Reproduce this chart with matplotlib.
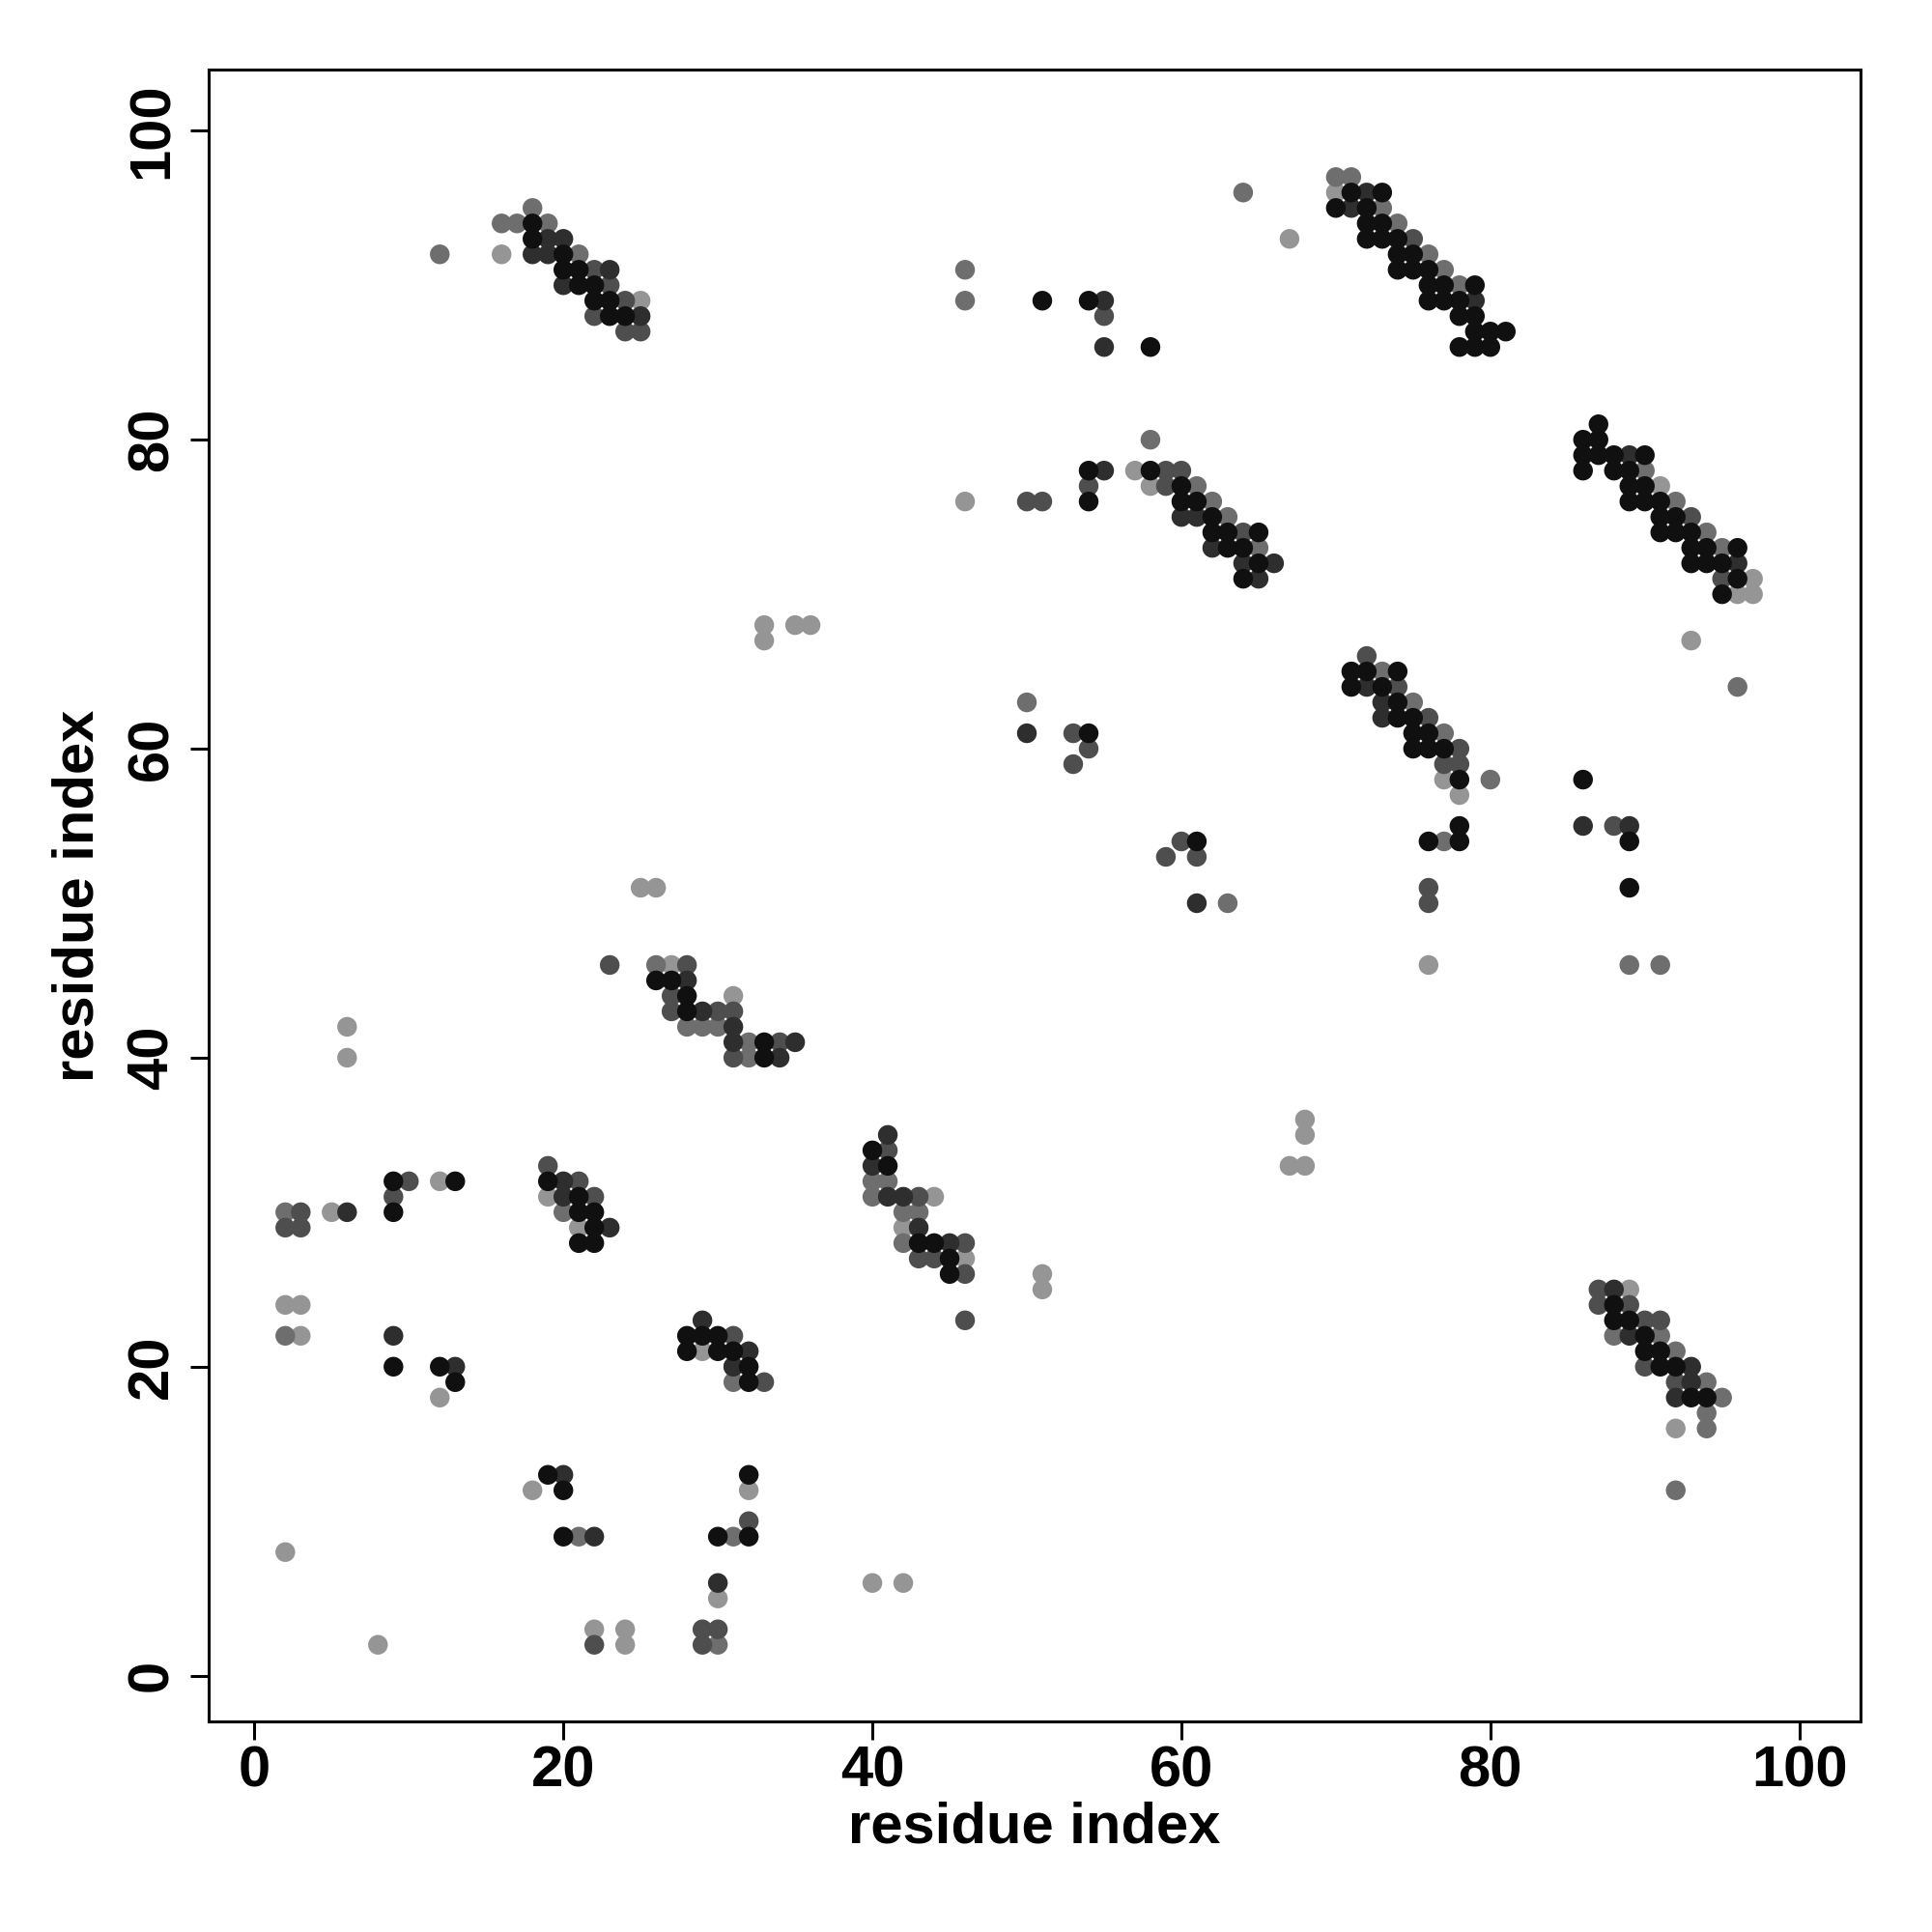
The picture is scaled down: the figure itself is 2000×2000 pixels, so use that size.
import matplotlib
matplotlib.use("Agg")
import matplotlib.pyplot as plt

plt.rcParams['font.family'] = ['Liberation Sans', 'DejaVu Sans']

# contact points grouped by shade (darkest first), as (i, j) residue pairs
level1 = [(18,94),(18,93),(20,92),(20,91),(21,91),(21,90),(22,90),(22,89),(23,89),(23,88),(24,88),
          (51,89),(54,89),(58,86),
          (71,96),(73,96),(70,95),(72,95),(72,94),(73,94),(72,93),(73,93),(74,93),(74,92),(75,92),
          (74,91),(75,91),(76,91),(76,90),(77,90),(79,90),(76,89),(77,89),(78,89),(78,88),(79,88),
          (79,87),(80,87),(81,87),(78,86),(79,86),(80,86),
          (54,78),(54,76),(58,78),(60,77),(60,76),(61,76),(62,75),(62,74),(63,74),(63,73),(64,73),
          (64,71),(65,74),(65,72),
          (87,81),(86,80),(87,80),(86,79),(87,79),(88,79),(90,79),(86,78),(88,78),(89,78),(89,77),
          (90,77),(89,76),(90,76),(91,76),(91,75),(92,75),(91,74),(92,74),(93,74),(93,73),(94,73),
          (96,73),(93,72),(94,72),(95,72),(96,71),(95,70),
          (54,61),(61,54),
          (71,65),(72,65),(74,65),(71,64),(73,64),(74,63),(74,62),(75,62),(75,61),(76,61),(75,60),
          (76,60),(77,60),(78,58),(86,58),(78,55),(76,54),(78,54),(89,54),(89,51),
          (26,45),(27,45),(28,44),(28,43),(33,41),(33,40),
          (9,32),(13,32),(9,30),(19,32),(21,31),(21,30),(22,30),(22,29),(21,28),(22,28),(9,20),
          (12,20),(13,19),
          (40,34),(41,33),(43,28),(44,28),(45,27),(45,26),(28,22),(29,22),(30,22),(28,21),(30,21),
          (31,21),(32,20),(32,19),
          (19,13),(20,12),(20,9),(32,13),(30,9),(32,9),
          (88,24),(88,23),(89,23),(90,22),(90,21),(91,21),(91,20),(92,20),(93,18),(94,18)]

level2 = [(18,92),(19,93),(19,92),(20,93),(20,90),(23,91),(25,88),
          (55,89),(55,86),
          (72,96),(71,95),(79,89),
          (55,78),(60,75),(61,75),(62,73),(64,72),(65,71),(66,72),
          (89,79),(96,72),
          (50,61),(61,50),
          (72,64),(73,63),(73,62),(86,55),(89,55),
          (28,45),(29,43),(31,42),(31,41),(35,41),(34,40),
          (6,30),(20,32),(20,31),(23,29),(9,22),(13,20),
          (41,35),(40,33),(41,31),(42,31),(43,29),(45,28),(29,23),(32,21),(31,20),
          (20,13),(22,9),(30,6),
          (88,25),(89,22),(93,20),(93,19),(92,18)]

level3 = [(22,91),(22,88),(23,90),(24,89),(24,87),(25,87),
          (55,88),
          (75,93),
          (50,76),(51,76),(54,77),(59,78),(59,77),(60,78),(64,74),
          (93,75),(95,71),
          (53,61),(54,60),(53,59),(60,54),(59,53),(61,53),
          (72,66),(74,64),(76,62),(78,60),(77,59),(78,59),(88,55),(76,51),(76,50),
          (23,46),(28,46),(27,44),(27,43),(30,43),(31,43),(34,41),(31,40),
          (19,33),(10,32),(9,31),(3,30),(2,29),(3,29),(21,32),(22,31),
          (41,34),(43,31),(44,27),(43,27),(46,26),(46,23),(46,28),(31,22),(33,19),
          (32,10),(22,2),(29,3),(30,3),(29,2),
          (87,25),(87,24),(89,24),(90,23),(91,23),(90,20),(92,19)]

level4 = [(12,92),(16,94),(17,94),(18,95),(19,94),(21,92),
          (64,96),(46,91),(46,89),
          (70,97),(71,97),(73,95),(74,94),(76,92),(77,91),(78,90),
          (58,80),(61,77),(62,76),(63,75),(65,73),
          (90,78),(92,76),(94,74),(95,73),(96,64),
          (50,63),(63,50),
          (73,65),(75,63),(77,61),(80,58),(77,54),(89,46),(91,46),
          (26,46),(28,42),(29,42),(30,42),(32,41),(32,40),
          (2,30),(20,30),(2,22),
          (40,32),(41,32),(40,31),(42,30),(43,30),(42,28),(31,20),(31,19),
          (21,9),(31,9),(30,2),
          (88,22),(91,22),(92,21),(94,19),(95,18),(94,17),(94,16),(92,12)]

level5 = [(16,92),(25,89),
          (67,93),
          (70,96),
          (46,76),(57,78),(58,77),
          (91,77),(97,71),(96,70),(97,70),(93,67),
          (77,58),(78,57),(76,46),
          (33,68),(33,67),(35,68),(36,68),(25,51),(26,51),(27,46),(31,44),
          (6,42),(6,40),(12,32),(5,30),(19,31),(21,29),(2,24),(3,24),(3,22),(12,18),
          (44,31),(42,29),(46,27),(29,21),
          (18,12),(32,12),(30,5),(22,3),(24,3),(24,2),(2,8),(8,2),
          (89,25),(92,16),
          (51,26),(51,25),(67,33),(68,33),(68,35),(68,36),(40,6),(42,6)]

shades = ['#101010', '#2e2e2e', '#4e4e4e', '#6e6e6e', '#959595']
levels = [level1, level2, level3, level4, level5]

fig = plt.figure(figsize=(10, 10), dpi=200)
ax = fig.add_axes([0.108, 0.109, 0.855, 0.855])

# light points first, dark on top
for pts, col in reversed(list(zip(levels, shades))):
    xs = [p[0] for p in pts]
    ys = [p[1] for p in pts]
    ax.scatter(xs, ys, s=54, c=col, edgecolors='none', zorder=2)

ax.set_xlim(-2.96, 103.96)
ax.set_ylim(-2.96, 103.96)
ticks = [0, 20, 40, 60, 80, 100]
ax.set_xticks(ticks)
ax.set_yticks(ticks)
ax.set_xticklabels([str(t) for t in ticks], fontsize=21.5, fontweight='bold')
ax.set_yticklabels([str(t) for t in ticks], fontsize=21.5, fontweight='bold',
                   rotation=90, va='center')
ax.tick_params(direction='out', length=7, width=1.1)
ax.tick_params(axis='x', pad=2)
ax.tick_params(axis='y', pad=4)
for sp in ax.spines.values():
    sp.set_linewidth(1.1)

ax.set_xlabel('residue index', fontsize=21.5, fontweight='bold', labelpad=1)
ax.set_ylabel('residue index', fontsize=21.5, fontweight='bold', labelpad=8)

fig.savefig('out.png', dpi=200, facecolor='white')
